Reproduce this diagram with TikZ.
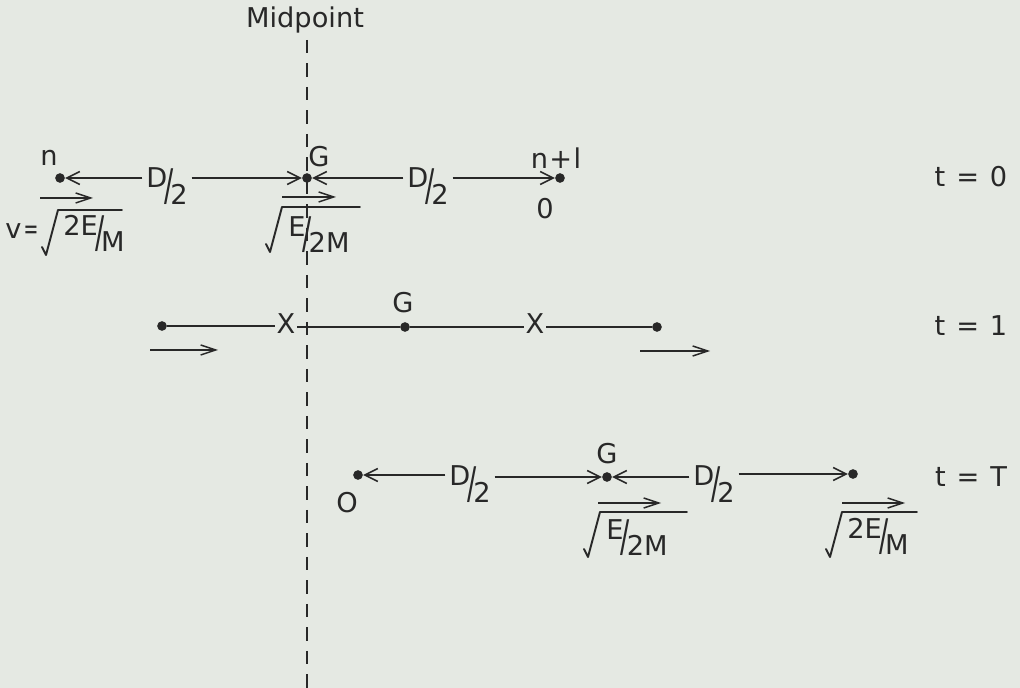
\documentclass[tikz,border=0pt]{standalone}
\usepackage{fontspec}
\usepackage{graphicx}
\setmainfont{DejaVu Sans}
\usetikzlibrary{arrows.meta}
\definecolor{paper}{RGB}{229,233,227}
\definecolor{ink}{RGB}{40,40,40}
\newcommand{\slfrac}[2]{#1\kern-0.1em\raisebox{-0.45em}{\scalebox{1}[1.6]{/}}\kern-0.12em\raisebox{-0.6em}{#2}}
\newcommand{\tsp}{\hspace{0.4em}}
% radical sign: top of rise at (#1,#2), overline to x = #3
\newcommand{\radic}[3]{\draw[rad] (#1-16,#2+37) -- (#1-12,#2+45) -- (#1,#2) -- (#3,#2);}
\begin{document}
\begin{tikzpicture}[x=0.02cm,y=-0.02cm,
  font=\fontsize{15.5}{18}\selectfont,
  every node/.style={text=ink},
  dot/.style={circle,fill=ink,inner sep=0pt,minimum size=5.5pt},
  lbl/.style={inner sep=1pt},
  flab/.style={inner sep=2pt,anchor=base},
  rcont/.style={inner sep=0pt,anchor=north west},
  seg/.style={draw=ink,line width=0.85pt},
  rad/.style={draw=ink,line width=1.1pt,line join=round,line cap=round},
  arr/.style={seg,-{Straight Barb[length=2.6mm,width=2.6mm]}},
  vel/.style={seg,-{Straight Barb[length=3mm,width=2.0mm]}},
  mid/.style={draw=ink,line width=1.1pt,dash pattern=on 0.27cm off 0.2cm}]
\fill[paper] (0,0) rectangle (1020,688);
\useasboundingbox (0,0) rectangle (1020,688);

% midpoint line
\node[lbl] (midlab) at (305,20) {Midpoint};
\coordinate (mtop) at (307,40);
\coordinate (mbot) at (307,688);
\draw[mid] (mtop) -- (mbot);

% ---------- t = 0 ----------
\node[dot] (n) at (60,178) {};
\node[lbl] (nlab) at (49,158) {n};
\node[dot] (G0) at (307,178) {};
\node[lbl] (G0lab) at (319,157) {G};
\node[dot] (n1) at (560,178) {};
\node[lbl] (n1lab) at (556,158) {n\kern0.05em+\kern0.05em l};
\node[lbl] (zero0) at (545,209) {0};
\node[flab] (dl0) at (167,188) {\slfrac{D}{2}};
\node[flab] (dr0) at (428,188) {\slfrac{D}{2}};
\draw[arr] (dl0.west |- n) -- (n);
\draw[arr] (dl0.east |- n) -- (G0);
\draw[arr] (dr0.west |- G0) -- (G0);
\draw[arr] (dr0.east |- n1) -- (n1);
\coordinate (v0a) at (40,198); \coordinate (v0b) at (93,198);
\draw[vel] (v0a) -- (v0b);
\node[lbl] (veq) at (22,231) {v\kern0.08em\scalebox{0.65}[1]{=}};
\radic{58}{210}{122}
\node[rcont] (v0lab) at (63,215) {\slfrac{2E}{M}};
\coordinate (g0a) at (282,197); \coordinate (g0b) at (336,197);
\draw[vel] (g0a) -- (g0b);
\radic{282}{207}{360}
\node[rcont] (g0vlab) at (288,216) {\slfrac{E}{2M}};
\node[lbl] (t0) at (971,177) {t\tsp=\tsp0};

% ---------- t = 1 ----------
\node[dot] (a1) at (162,326) {};
\node[lbl] (x1) at (286,324) {X};
\node[dot] (G1) at (405,327) {};
\node[lbl] (G1lab) at (403,303) {G};
\node[lbl] (x2) at (535,324) {X};
\node[dot] (b1) at (657,327) {};
\draw[seg] (a1) -- (x1.west |- a1);
\draw[seg] (x1.east |- G1) -- (G1);
\draw[seg] (G1) -- (x2.west |- G1);
\draw[seg] (x2.east |- b1) -- (b1);
\coordinate (v1a) at (150,350); \coordinate (v1b) at (218,350);
\draw[vel] (v1a) -- (v1b);
\coordinate (v2a) at (640,351); \coordinate (v2b) at (710,351);
\draw[vel] (v2a) -- (v2b);
\node[lbl] (t1) at (971,326) {t\tsp=\tsp1};

% ---------- t = T ----------
\node[dot] (o2) at (358,475) {};
\node[lbl] (o2lab) at (347,503) {O};
\node[dot] (G2) at (607,477) {};
\node[lbl] (G2lab) at (607,454) {G};
\node[dot] (b2) at (853,474) {};
\node[flab] (dl2) at (470,486) {\slfrac{D}{2}};
\node[flab] (dr2) at (714,486) {\slfrac{D}{2}};
\draw[arr] (dl2.west |- o2) -- (o2);
\draw[arr] (dl2.east |- G2) -- (G2);
\draw[arr] (dr2.west |- G2) -- (G2);
\draw[arr] (dr2.east |- b2) -- (b2);
\coordinate (v3a) at (598,503); \coordinate (v3b) at (661,503);
\draw[vel] (v3a) -- (v3b);
\radic{600}{512}{687}
\node[rcont] (G2vlab) at (606,519) {\slfrac{E}{2M}};
\coordinate (v4a) at (842,503); \coordinate (v4b) at (905,503);
\draw[vel] (v4a) -- (v4b);
\radic{842}{512}{917}
\node[rcont] (b2vlab) at (847,518) {\slfrac{2E}{M}};
\node[lbl] (tT) at (971,477) {t\tsp=\tsp T};
\end{tikzpicture}
\end{document}
